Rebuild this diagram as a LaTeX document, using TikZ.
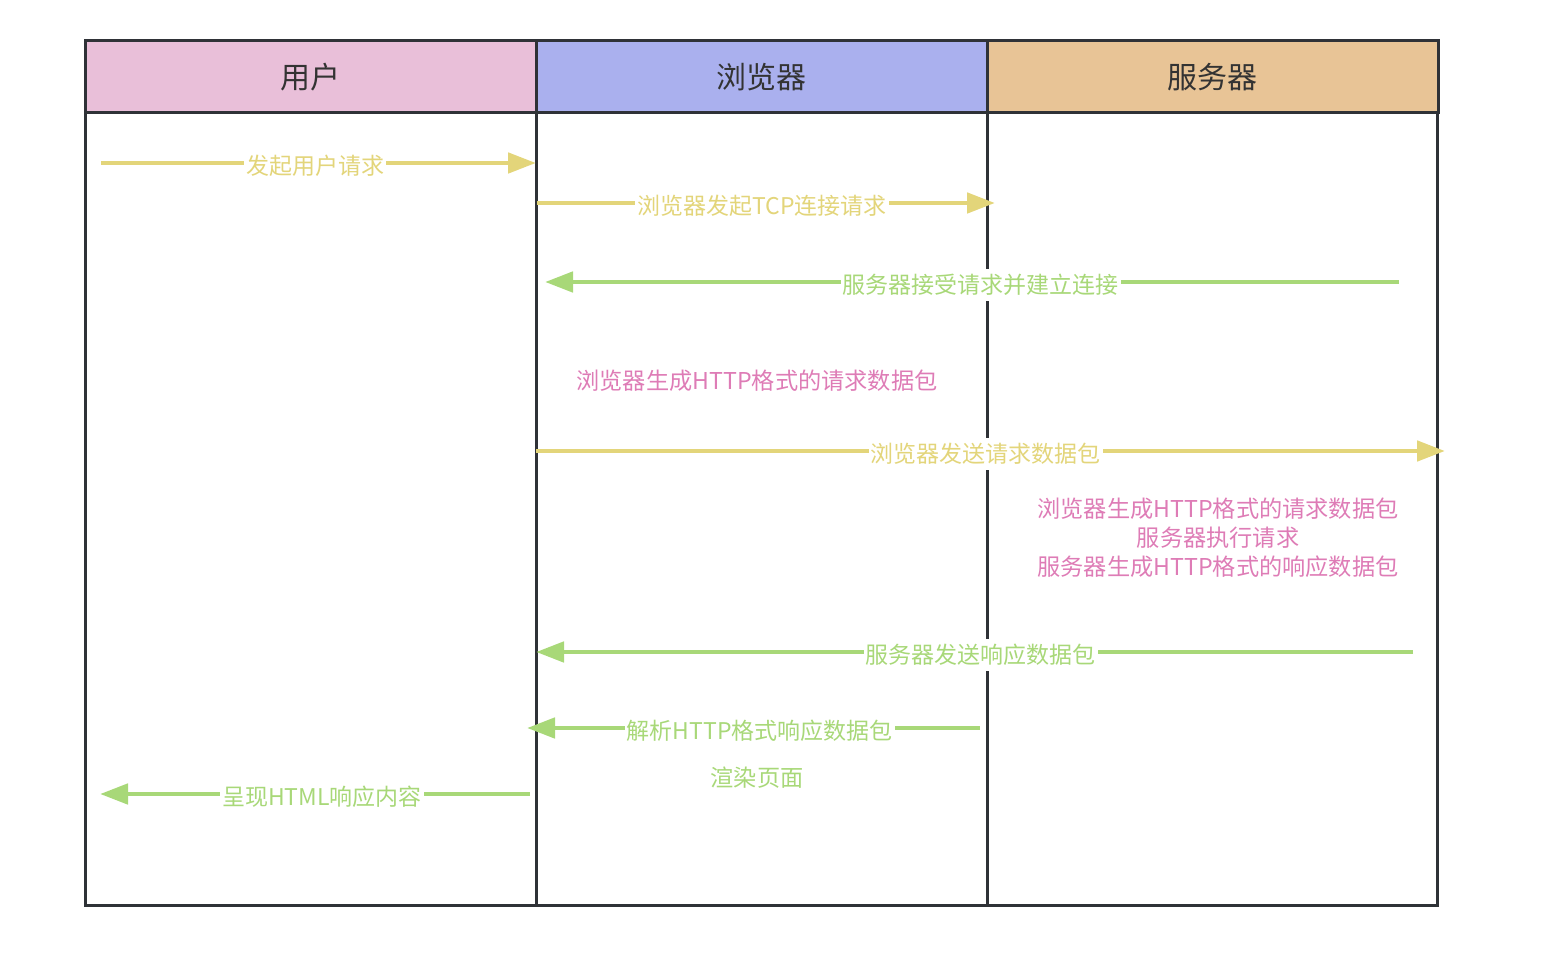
\documentclass[tikz,border=0pt]{standalone}
\usepackage{fontspec}
\setmainfont{Noto Sans CJK SC}
\usetikzlibrary{arrows.meta,positioning,calc}
\definecolor{userpink}{HTML}{E9BFD9}
\definecolor{browserblue}{HTML}{AAB0EE}
\definecolor{serverorange}{HTML}{E8C496}
\definecolor{framegray}{HTML}{2F3237}
\definecolor{reqyellow}{HTML}{E3D57A}
\definecolor{respgreen}{HTML}{A8D878}
\definecolor{notepink}{HTML}{DE7CB6}

\begin{document}
\begin{tikzpicture}[
    x=0.5pt, y=-0.5pt,
    lanehead/.style={rectangle, draw=framegray, line width=1.5pt, outer sep=0pt, minimum width=225.5pt, minimum height=36pt, inner sep=0pt, text=black!80, font=\fontsize{15}{17}\selectfont},
    lane/.style={draw=framegray, line width=1.5pt},
    req/.style={-{Triangle[length=14pt,width=10pt]}, line width=2.4pt, reqyellow},
    resp/.style={-{Triangle[length=14pt,width=10pt]}, line width=2.4pt, respgreen},
    msg/.style={fill=white, inner xsep=1pt, inner ysep=2.5pt, yshift=-1.5pt, font=\fontsize{11.5}{13}\selectfont},
    note/.style={align=center, inner sep=0pt, font=\fontsize{11.6}{14.5}\selectfont},
]
\useasboundingbox (0,0) rectangle (1545,961);

% lanes
\draw[lane] (85,113) rectangle (1437,905);
\coordinate (ubot) at (536,905);
\coordinate (sbot) at (987,905);
\node[lanehead, fill=userpink] (user) at (310.5,77) {用户};
\node[lanehead, fill=browserblue, right=0pt of user] (browser) {浏览器};
\node[lanehead, fill=serverorange, right=0pt of browser] (server) {服务器};
\draw[lane] (browser.south west) -- (ubot);
\draw[lane] (server.south west) -- (sbot);

% message ends
\coordinate (u1) at (101,163);   \coordinate (b1) at (536,163);
\coordinate (b2) at (537,203);   \coordinate (s2) at (995,203);
\coordinate (s3) at (1399,282);  \coordinate (b3) at (545,282);
\coordinate (b5) at (536,451);   \coordinate (s5) at (1445,451);
\coordinate (s7) at (1413,652);  \coordinate (b7) at (536,652);
\coordinate (s8) at (980,728);   \coordinate (b8) at (527,728);
\coordinate (b10) at (530,794);  \coordinate (u10) at (100,794);

% messages
\draw[req] (u1) -- node[msg, text=reqyellow, pos=0.493] (m1) {发起用户请求} (b1);
\draw[req] (b2) -- node[msg, text=reqyellow, pos=0.491] (m2) {浏览器发起TCP连接请求} (s2);
\draw[resp] (s3) -- node[msg, text=respgreen, pos=0.49] (m3) {服务器接受请求并建立连接} (b3);
\node[note, text=notepink] (n4) at (757,381) {浏览器生成HTTP格式的请求数据包};
\draw[req] (b5) -- node[msg, text=reqyellow, pos=0.495] (m5) {浏览器发送请求数据包} (s5);
\node[note, text=notepink] (n6) at (1218,538) {浏览器生成HTTP格式的请求数据包\\服务器执行请求\\服务器生成HTTP格式的响应数据包};
\draw[resp] (s7) -- node[msg, text=respgreen, pos=0.493] (m7) {服务器发送响应数据包} (b7);
\draw[resp] (s8) -- node[msg, text=respgreen, pos=0.486] (m8) {解析HTTP格式响应数据包} (b8);
\node[note, text=respgreen] (n9) at (757,778) {渲染页面};
\draw[resp] (b10) -- node[msg, text=respgreen, pos=0.484] (m10) {呈现HTML响应内容} (u10);
\end{tikzpicture}
\end{document}
